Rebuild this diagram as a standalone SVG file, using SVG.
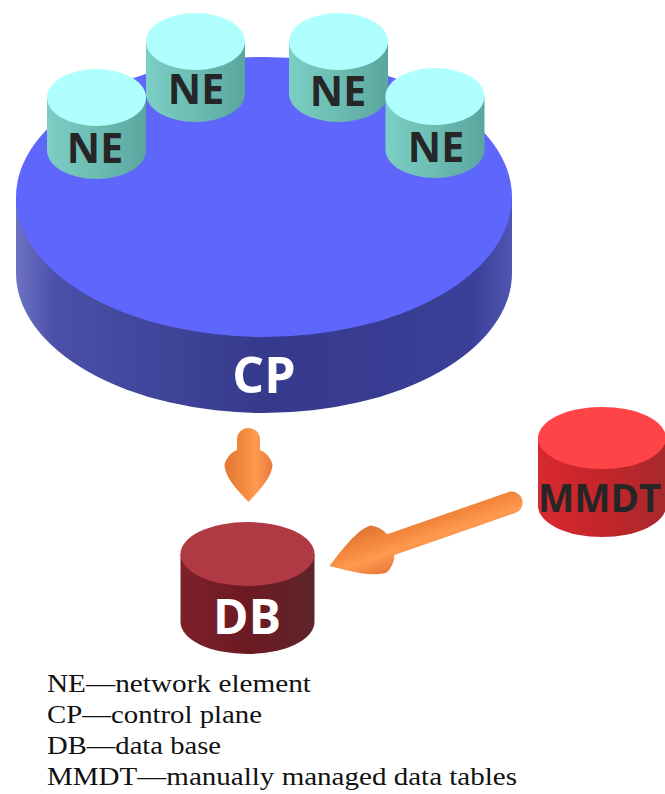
<svg xmlns="http://www.w3.org/2000/svg" width="665" height="794" viewBox="0 0 665 794">
  <defs>
    <linearGradient id="cpSide" x1="0" y1="0" x2="1" y2="0">
      <stop offset="0" stop-color="#6d72c4"/>
      <stop offset="0.08" stop-color="#4a50a8"/>
      <stop offset="0.5" stop-color="#353a8c"/>
      <stop offset="0.92" stop-color="#3a3f98"/>
      <stop offset="1" stop-color="#4f55b0"/>
    </linearGradient>
    <linearGradient id="neSide" x1="0" y1="0" x2="1" y2="0">
      <stop offset="0" stop-color="#7ccfc4"/>
      <stop offset="0.5" stop-color="#6bbcb2"/>
      <stop offset="1" stop-color="#5ba69f"/>
    </linearGradient>
    <linearGradient id="dbSide" x1="0" y1="0" x2="1" y2="0">
      <stop offset="0" stop-color="#7e2129"/>
      <stop offset="0.5" stop-color="#6c1a22"/>
      <stop offset="1" stop-color="#5e252b"/>
    </linearGradient>
    <linearGradient id="mmSide" x1="0" y1="0" x2="1" y2="0">
      <stop offset="0" stop-color="#d8292f"/>
      <stop offset="0.5" stop-color="#c4252b"/>
      <stop offset="1" stop-color="#a8292d"/>
    </linearGradient>
    <linearGradient id="arrowFill" gradientUnits="userSpaceOnUse" x1="0" y1="-25" x2="0" y2="25">
      <stop offset="0" stop-color="#e8783a"/>
      <stop offset="0.35" stop-color="#ff9a50"/>
      <stop offset="0.6" stop-color="#f58a3e"/>
      <stop offset="1" stop-color="#e07432"/>
    </linearGradient>
    <!-- arrows point along +x with the tail at the origin -->
    <path id="arrowShort" d="M11.5,-11.5 L22,-11.5 Q25,-20 36,-24 C50,-24 64,-9 74,0 C64,9 50,24 36,24 Q25,20 22,11.5 L11.5,11.5 A11.5,11.5 0 0 1 11.5,-11.5 Z"/>
    <path id="arrowLong" d="M11,-11 L139,-11 Q142,-20 152,-25 C168,-25 190,-9 204,0 C190,9 168,25 152,25 Q142,20 139,11 L11,11 A11,11 0 0 1 11,-11 Z"/>
  </defs>
  <style>
    .lbl { font-family: "Open Sans", "DejaVu Sans", sans-serif; font-weight: 700; text-anchor: middle; }
    .dark { fill: #262626; }
    .light { fill: #ffffff; }
    .neTop { fill: #b0ffff; }
    .neSide { fill: url(#neSide); }
    .legend { font-family: "Liberation Serif", "DejaVu Serif", serif; font-size: 26px; fill: #111111; }
  </style>

  <!-- control plane disk -->
  <g id="cp">
    <path d="M16,197 L16,273 A248,140 0 0 0 512,273 L512,197 Z" fill="url(#cpSide)"/>
    <ellipse cx="264" cy="197" rx="248" ry="140" fill="#5e66fc"/>
    <text class="lbl light" x="264" y="393" font-size="50">CP</text>
  </g>

  <!-- network elements, back row first -->
  <g id="ne2">
    <path d="M146,41.5 L146,93.5 A49.5,28.5 0 0 0 245,93.5 L245,41.5 Z" class="neSide"/>
    <ellipse cx="195.5" cy="41.5" rx="49.5" ry="28.5" class="neTop"/>
    <text class="lbl dark" x="196" y="104" font-size="41">NE</text>
  </g>
  <g id="ne3">
    <path d="M289,41.5 L289,93.5 A49.5,28.5 0 0 0 388,93.5 L388,41.5 Z" class="neSide"/>
    <ellipse cx="338.5" cy="41.5" rx="49.5" ry="28.5" class="neTop"/>
    <text class="lbl dark" x="338" y="106" font-size="41">NE</text>
  </g>
  <g id="ne1">
    <path d="M47,97.5 L47,150.5 A49.5,28.5 0 0 0 146,150.5 L146,97.5 Z" class="neSide"/>
    <ellipse cx="96.5" cy="97.5" rx="49.5" ry="28.5" class="neTop"/>
    <text class="lbl dark" x="95" y="163" font-size="41">NE</text>
  </g>
  <g id="ne4">
    <path d="M385.5,96.5 L385.5,149.5 A49.5,28.5 0 0 0 484.5,149.5 L484.5,96.5 Z" class="neSide"/>
    <ellipse cx="435" cy="96.5" rx="49.5" ry="28.5" class="neTop"/>
    <text class="lbl dark" x="436" y="162" font-size="41">NE</text>
  </g>

  <!-- data base -->
  <g id="db">
    <path d="M180.5,554 L180.5,622 A67,32 0 0 0 314.5,622 L314.5,554 Z" fill="url(#dbSide)"/>
    <ellipse cx="247.5" cy="554" rx="67" ry="32" fill="#b03a44"/>
    <text class="lbl light" x="247" y="634" font-size="48">DB</text>
  </g>

  <!-- manually managed data tables -->
  <g id="mmdt">
    <path d="M538,438 L538,506 A64,31 0 0 0 666,506 L666,438 Z" fill="url(#mmSide)"/>
    <ellipse cx="602" cy="438" rx="64" ry="31" fill="#ff4448"/>
    <text class="lbl dark" x="538" y="512" font-size="38.5" style="text-anchor:start">MMDT</text>
  </g>

  <!-- connectors -->
  <g id="connectors">
    <use href="#arrowShort" transform="translate(248.5,428) rotate(90)" fill="url(#arrowFill)"/>
    <use href="#arrowLong" transform="translate(522,499) rotate(160.8)" fill="url(#arrowFill)"/>
  </g>

  <!-- legend -->
  <g id="legend" class="legend">
    <text x="47" y="692" textLength="264" lengthAdjust="spacingAndGlyphs">NE—network element</text>
    <text x="47" y="723" textLength="215" lengthAdjust="spacingAndGlyphs">CP—control plane</text>
    <text x="47" y="754" textLength="174" lengthAdjust="spacingAndGlyphs">DB—data base</text>
    <text x="47" y="785" textLength="470" lengthAdjust="spacingAndGlyphs">MMDT—manually managed data tables</text>
  </g>
</svg>
